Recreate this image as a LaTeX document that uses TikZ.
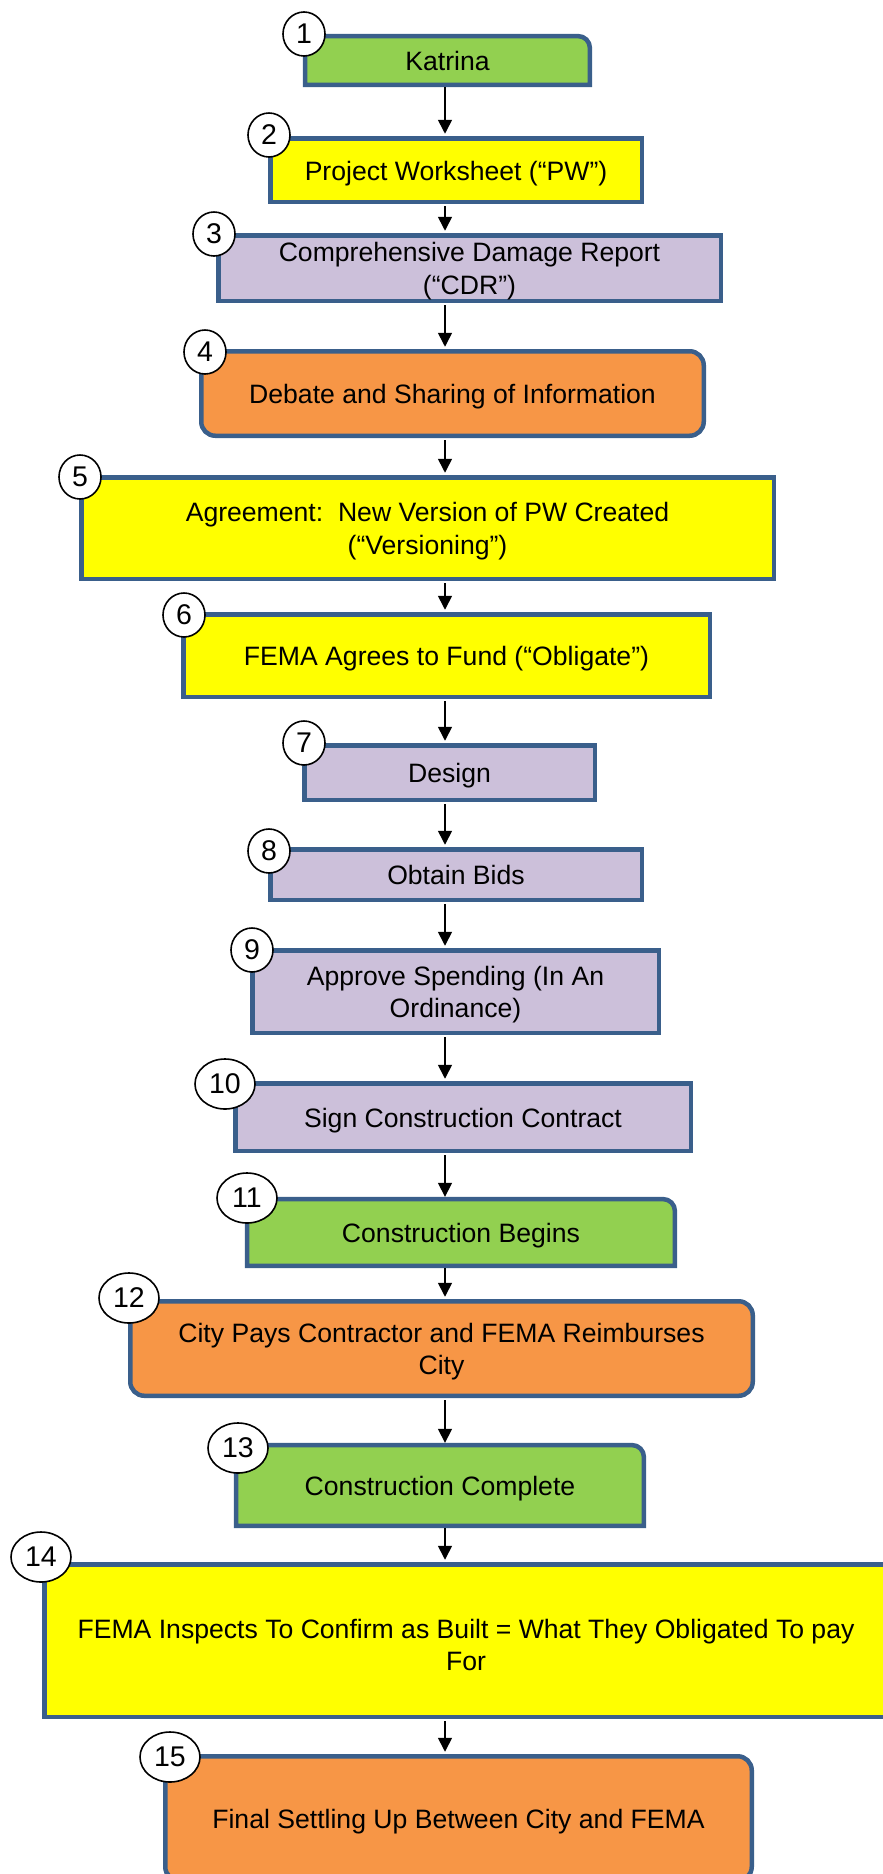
\documentclass[tikz,border=0pt]{standalone}
\usepackage{fontspec}
\setmainfont{Liberation Sans}
\usetikzlibrary{arrows.meta,backgrounds,shapes.geometric}
\definecolor{bord}{HTML}{3A5F8B}
\definecolor{cgreen}{HTML}{92D050}
\definecolor{cyellow}{HTML}{FFFF00}
\definecolor{cpurple}{HTML}{CCC0DA}
\definecolor{corange}{HTML}{F79646}
\tikzset{
  boxtext/.style={inner sep=0pt, align=center, font=\fontsize{26.6}{32.5}\selectfont,
    text height=25.5pt, text depth=5.5pt},
  twolines/.style={text height=58pt},
  sqbox/.style={boxtext, draw=bord, line width=4.5pt},
  rbox/.style={sqbox, rounded corners=14pt},
  cornerbox/.style={boxtext},
  cornerpath/.style={draw=bord, line width=4.5pt, line join=miter},
  numc/.style={ellipse, draw=black, line width=1.6pt, fill=white, inner sep=0pt,
    font=\fontsize{28.5}{28.5}\selectfont},
  numone/.style={numc, minimum width=42pt, minimum height=44pt},
  numtwo/.style={numc, minimum width=60pt, minimum height=50pt},
  arr/.style={-{Triangle[width=14pt,length=14pt]}, line width=1.6pt,
    shorten <=2.25pt, shorten >=2.25pt}
}
\newcommand{\onecorner}[2]{%
  \path[cornerpath, fill=#2] (#1.south west) -- (#1.north west)
    -- ([xshift=-12pt]#1.north east) arc[start angle=90, end angle=0, radius=12pt]
    -- (#1.south east) -- cycle;}
\begin{document}
\begin{tikzpicture}[x=1pt, y=-1pt]
\useasboundingbox (0,0) rectangle (883,1874);
\clip (0,0) rectangle (883,1874);
\coordinate (axis) at (445,0);

\node[cornerbox, minimum width=284.5pt, minimum height=48.5pt] (b1) at (447.5,60.5) {Katrina};
\node[sqbox, fill=cyellow, minimum width=371.5pt, minimum height=63.5pt] (b2) at (456,170) {Project Worksheet (“PW”)};
\node[sqbox, twolines, fill=cpurple, minimum width=502.5pt, minimum height=65.5pt] (b3) at (469.5,268) {Comprehensive Damage Report\\(“CDR”)};
\node[rbox, fill=corange, minimum width=502.5pt, minimum height=84.5pt] (b4) at (452.5,393.5) {Debate and Sharing of Information};
\node[sqbox, twolines, fill=cyellow, minimum width=692.5pt, minimum height=101.5pt] (b5) at (427.5,528) {Agreement:\ \ New Version of PW Created\\(“Versioning”)};
\node[sqbox, fill=cyellow, minimum width=526.5pt, minimum height=82.5pt] (b6) at (446.5,655.5) {FEMA Agrees to Fund (“Obligate”)};
\node[sqbox, fill=cpurple, minimum width=290.5pt, minimum height=54.5pt] (b7) at (449.5,772.5) {Design};
\node[sqbox, fill=cpurple, minimum width=371.5pt, minimum height=50.5pt] (b8) at (456,874.5) {Obtain Bids};
\node[sqbox, twolines, fill=cpurple, minimum width=406.5pt, minimum height=82.5pt] (b9) at (455.5,991.5) {Approve Spending (In An\\Ordinance)};
\node[sqbox, fill=cpurple, minimum width=455.5pt, minimum height=67.5pt] (b10) at (463,1117) {Sign Construction Contract};
\node[cornerbox, minimum width=427.5pt, minimum height=66.5pt] (b11) at (461,1232.5) {Construction Begins};
\node[rbox, twolines, fill=corange, minimum width=622.5pt, minimum height=94.5pt] (b12) at (441.5,1348.5) {City Pays Contractor and FEMA Reimburses\\City};
\node[cornerbox, minimum width=407.5pt, minimum height=80.5pt] (b13) at (440,1485.5) {Construction Complete};
\node[sqbox, fill=cyellow, minimum width=843.5pt, minimum height=152.5pt, text height=66pt] (b14) at (466,1640.5) {FEMA Inspects To Confirm as Built = What They Obligated To pay\\For};
\node[rbox, fill=corange, minimum width=586.5pt, minimum height=124.5pt] (b15) at (458.5,1818.5) {Final Settling Up Between City and FEMA};

\begin{pgfonlayer}{background}
  \onecorner{b1}{cgreen}
  \onecorner{b11}{cgreen}
  \onecorner{b13}{cgreen}
\end{pgfonlayer}

\foreach \a/\b in {b1/b2,b2/b3,b3/b4,b4/b5,b5/b6,b6/b7,b7/b8,b8/b9,b9/b10,b10/b11,b11/b12,b12/b13,b13/b14,b14/b15}
  \draw[arr] (\a.south -| axis) -- (\b.north -| axis);

\node[numone] (c1) at (304,34) {1};
\node[numone] (c2) at (269,135) {2};
\node[numone] (c3) at (214,234) {3};
\node[numone] (c4) at (205,352) {4};
\node[numone] (c5) at (80,477) {5};
\node[numone] (c6) at (184,615) {6};
\node[numone] (c7) at (304,743) {7};
\node[numone] (c8) at (269,851) {8};
\node[numone] (c9) at (252,950) {9};
\node[numtwo] (c10) at (225,1084) {10};
\node[numtwo] (c11) at (247,1198) {11};
\node[numtwo] (c12) at (129,1298) {12};
\node[numtwo] (c13) at (238,1448) {13};
\node[numtwo] (c14) at (41,1557) {14};
\node[numtwo] (c15) at (170,1757) {15};
\end{tikzpicture}
\end{document}
